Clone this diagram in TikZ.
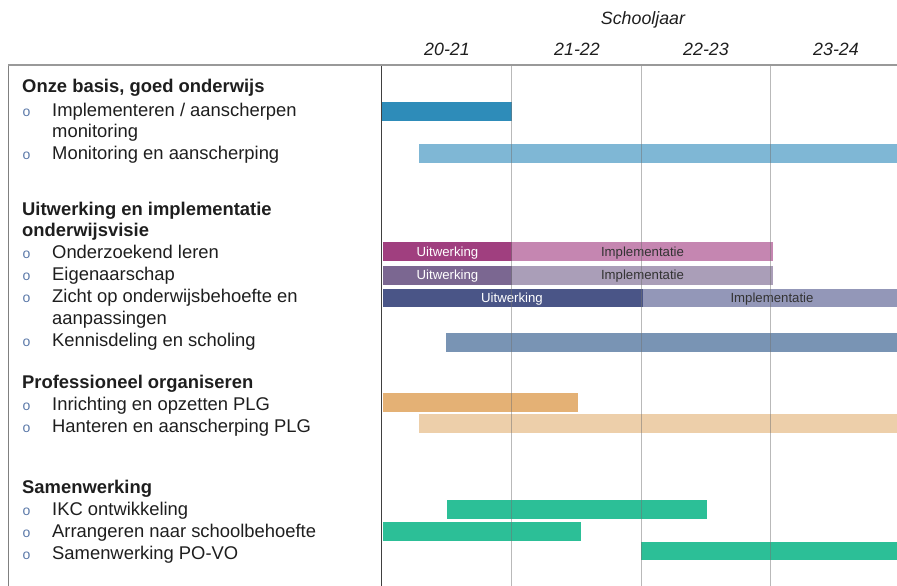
\documentclass[tikz,border=0pt]{standalone}
\usepackage{fontspec}
\setmainfont{Liberation Sans}
\definecolor{txt}{HTML}{1E1E1E}
\definecolor{bul}{HTML}{5A78A8}
\definecolor{cBlueD}{HTML}{2E8CB9}
\definecolor{cBlueL}{HTML}{7FB7D5}
\definecolor{cMagD}{HTML}{A03F7F}
\definecolor{cMagL}{HTML}{C586B1}
\definecolor{cPurD}{HTML}{7B6791}
\definecolor{cPurL}{HTML}{AA9EB8}
\definecolor{cNavD}{HTML}{4A5587}
\definecolor{cNavL}{HTML}{9397B8}
\definecolor{cKen}{HTML}{7994B4}
\definecolor{cOrD}{HTML}{E4B175}
\definecolor{cOrL}{HTML}{EDCFAA}
\definecolor{cTeal}{HTML}{2CBF97}
\tikzset{
  head/.style={anchor=base west, inner sep=0pt, font=\fontsize{18.4}{20}\selectfont\bfseries, text=txt},
  item/.style={anchor=base west, inner sep=0pt, font=\fontsize{18.4}{20}\selectfont, text=txt},
  bull/.style={anchor=base, inner sep=0pt, font=\fontsize{14}{16}\selectfont, text=bul},
  yr/.style={anchor=base, inner sep=0pt, font=\fontsize{17.8}{19}\selectfont\itshape, text=txt},
  blab/.style={anchor=base, inner sep=0pt, font=\fontsize{13.2}{15}\selectfont},
  grid/.style={draw=black!55, line width=0.9pt, opacity=0.5},
}
\begin{document}
\begin{tikzpicture}[x=1pt,y=-1pt]
\useasboundingbox (0,0) rectangle (897,586);
% header
\node[yr] (sj) at (643,25) {Schooljaar};
\node[yr] (y1) at (447,56) {20-21};
\node[yr] (y2) at (577,56) {21-22};
\node[yr] (y3) at (706,56) {22-23};
\node[yr] (y4) at (836,56) {23-24};
% frame
\coordinate (tl) at (8,65);
\coordinate (tr) at (897,65);
\coordinate (bl) at (8,586);
\coordinate (dt) at (381.5,65);
\coordinate (db) at (381.5,586);
\draw[black!50, line width=0.9pt] (tl) -- (bl);
% bars
\fill[cBlueD] (381.5,102) rectangle (512,121);
\fill[cBlueL] (419,144) rectangle (897,163);
\fill[cMagD] (383,242) rectangle (512,261);
\fill[cMagL] (512,242) rectangle (773,261);
\fill[cPurD] (383,266) rectangle (512,284.5);
\fill[cPurL] (512,266) rectangle (773,284.5);
\fill[cNavD] (383,289) rectangle (643,307);
\fill[cNavL] (643,289) rectangle (897,307);
\fill[cKen] (446,333) rectangle (897,352);
\fill[cOrD] (383,393) rectangle (578,411.5);
\fill[cOrL] (419,414) rectangle (897,433);
\fill[cTeal] (447,500) rectangle (707,518.5);
\fill[cTeal] (383,522) rectangle (581,540.5);
\fill[cTeal] (641,541.5) rectangle (897,560);
% bar labels
\node[blab, text=white] (u1) at (447.5,256.3) {Uitwerking};
\node[blab, text=black!80] (i1) at (642.5,256.3) {Implementatie};
\node[blab, text=white] (u2) at (447.5,279.7) {Uitwerking};
\node[blab, text=black!80] (i2) at (642.5,279.7) {Implementatie};
\node[blab, text=white] (u3) at (512,302.6) {Uitwerking};
\node[blab, text=black!80] (i3) at (772,302.6) {Implementatie};
% grid lines
\foreach \gx/\nm in {511.5/g1, 641/g2, 770.5/g3}{
  \coordinate (\nm t) at (\gx,65);
  \coordinate (\nm b) at (\gx,586);
  \draw[grid] (\nm t) -- (\nm b);
}
\draw[black!75, line width=0.9pt] (dt) -- (db);
\draw[black!40, line width=1.6pt] (tl) -- (tr);
% left list
\node[head] (h1) at (22,92.3) {Onze basis, goed onderwijs};
\node[bull] (b1) at (26.5,116) {o};
\node[item] (t1) at (52,116) {Implementeren / aanscherpen};
\node[item] (t1b) at (52,137.8) {monitoring};
\node[bull] (b2) at (26.5,159.6) {o};
\node[item] (t2) at (52,159.6) {Monitoring en aanscherping};
\node[head] (h2) at (22,215) {Uitwerking en implementatie};
\node[head] (h2b) at (22,236.7) {onderwijsvisie};
\node[bull] (b3) at (26.5,258.3) {o};
\node[item] (t3) at (52,258.3) {Onderzoekend leren};
\node[bull] (b4) at (26.5,280.2) {o};
\node[item] (t4) at (52,280.2) {Eigenaarschap};
\node[bull] (b5) at (26.5,302.3) {o};
\node[item] (t5) at (52,302.3) {Zicht op onderwijsbehoefte en};
\node[item] (t5b) at (52,324) {aanpassingen};
\node[bull] (b6) at (26.5,346) {o};
\node[item] (t6) at (52,346) {Kennisdeling en scholing};
\node[head] (h3) at (22,388.3) {Professioneel organiseren};
\node[bull] (b7) at (26.5,410) {o};
\node[item] (t7) at (52,410) {Inrichting en opzetten PLG};
\node[bull] (b8) at (26.5,432.3) {o};
\node[item] (t8) at (52,432.3) {Hanteren en aanscherping PLG};
\node[head] (h4) at (22,493.3) {Samenwerking};
\node[bull] (b9) at (26.5,515.7) {o};
\node[item] (t9) at (52,515.7) {IKC ontwikkeling};
\node[bull] (b10) at (26.5,537.3) {o};
\node[item] (t10) at (52,537.3) {Arrangeren naar schoolbehoefte};
\node[bull] (b11) at (26.5,559.3) {o};
\node[item] (t11) at (52,559.3) {Samenwerking PO-VO};
\end{tikzpicture}
\end{document}
